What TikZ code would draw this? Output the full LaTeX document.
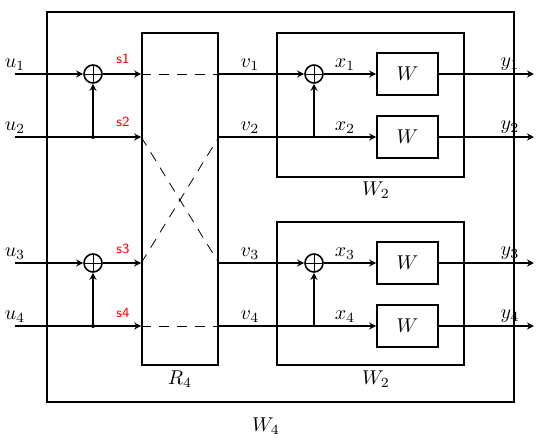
\documentclass[tikz,border=0pt]{standalone}
\usepackage{amsmath,amssymb}
\usepackage{tikz}
\usetikzlibrary{
	positioning,
	arrows.meta
}

\begin{document}
\begin{tikzpicture}[
			x=0.5pt,y=-0.5pt,
			frame/.style={
				draw,
				thick,
				inner sep=0pt
			},
			block/.style={
				draw,
				thick,
				minimum width=30.5pt,
				minimum height=21pt,
				inner sep=0pt
			},
			summer/.style={
				draw,
				thick,
				circle,
				minimum size=9pt,
				inner sep=0pt,
				path picture={
					\draw[thin] (path picture bounding box.north) -- (path picture bounding box.south)
					(path picture bounding box.west) -- (path picture bounding box.east);
				}
			},
			arrow/.style={-{Stealth[length=3.5pt,width=3.5pt]},thick},
			cross/.style={dash pattern=on 5pt off 4pt,thin},
			lab/.style={above,inner sep=1.5pt},
			tag/.style={text=red,font=\sffamily\scriptsize}
			]
			
			\useasboundingbox (0,0) rectangle (538,440);
			
			\node[frame,minimum width=233.5pt,minimum height=195pt] (w4) at (280.5,207) {};
			
			\node[frame,minimum width=38pt,minimum height=166pt] (r4) at (180,199) {};
			
			\node[frame,minimum width=93.5pt,minimum height=72pt] (w2a) at (370.5,105) {};
			
			\node[frame,minimum width=93.5pt,minimum height=71.5pt] (w2b) at (370.5,293.5) {};
			
			\node[block] (w1) at (407.5,74) {$W$};
			\node[block] (w2) at (407.5,137) {$W$};
			\node[block] (w3) at (407.5,263) {$W$};
			\node[block] (w4b) at (407.5,326) {$W$};
			
			\node at (180,379) {$R_4$};
			\node at (376,190) {$W_2$};
			\node at (376,379) {$W_2$};
			\node at (266,426) {$W_4$};
			
			\coordinate (u1) at (15,74);
			\coordinate (u2) at (15,137);
			\coordinate (u3) at (15,263);
			\coordinate (u4) at (15,326);
			
			\node[summer] (sum1) at (93,74) {};
			\node[summer] (sum3) at (93,263) {};
			\coordinate (j2) at (93,137);
			\coordinate (j4) at (93,326);
			
			\coordinate (a1) at (r4.west |- u1);
			\coordinate (a2) at (r4.west |- u2);
			\coordinate (a3) at (r4.west |- u3);
			\coordinate (a4) at (r4.west |- u4);
			\coordinate (b1) at (r4.east |- u1);
			\coordinate (b2) at (r4.east |- u2);
			\coordinate (b3) at (r4.east |- u3);
			\coordinate (b4) at (r4.east |- u4);
			
			\node[summer] (sum5) at (314,74) {};
			\node[summer] (sum7) at (314,263) {};
			\coordinate (j6) at (314,137);
			\coordinate (j8) at (314,326);
			
			\coordinate (y1) at (534,74);
			\coordinate (y2) at (534,137);
			\coordinate (y3) at (534,263);
			\coordinate (y4) at (534,326);
			
			\draw[arrow] (u1) -- (sum1);
			\draw[arrow] (sum1) -- (a1);
			\draw[arrow] (u2) -- (a2);
			\draw[arrow] (j2) -- (sum1);
			\draw[arrow] (u3) -- (sum3);
			\draw[arrow] (sum3) -- (a3);
			\draw[arrow] (u4) -- (a4);
			\draw[arrow] (j4) -- (sum3);
			\fill (j2) circle (1pt);
			\fill (j4) circle (1pt);
			
			\draw[cross] (a1) -- (b1);
			\draw[cross] (a2) -- (b3);
			\draw[cross] (a3) -- (b2);
			\draw[cross] (a4) -- (b4);
			
			\draw[arrow] (b1) -- (sum5);
			\draw[arrow] (sum5) -- (w1);
			\draw[arrow] (b2) -- (w2);
			\draw[arrow] (j6) -- (sum5);
			\draw[arrow] (b3) -- (sum7);
			\draw[arrow] (sum7) -- (w3);
			\draw[arrow] (b4) -- (w4b);
			\draw[arrow] (j8) -- (sum7);
			
			\draw[arrow] (w1) -- (y1);
			\draw[arrow] (w2) -- (y2);
			\draw[arrow] (w3) -- (y3);
			\draw[arrow] (w4b) -- (y4);
			
			\node[lab] at (u1) {$u_1$};
			\node[lab] at (u2) {$u_2$};
			\node[lab] at (u3) {$u_3$};
			\node[lab] at (u4) {$u_4$};
			
			\node[tag] at (123,59) {s1};
			\node[tag] at (123,122) {s2};
			\node[tag] at (123,249) {s3};
			\node[tag] at (123,313) {s4};
			
			\node[lab] at (250,74) {$v_1$};
			\node[lab] at (250,137) {$v_2$};
			\node[lab] at (250,263) {$v_3$};
			\node[lab] at (250,326) {$v_4$};
			
			\node[lab] at (345,74) {$x_1$};
			\node[lab] at (345,137) {$x_2$};
			\node[lab] at (345,263) {$x_3$};
			\node[lab] at (345,326) {$x_4$};
			
			\node[lab] at (510,74) {$y_1$};
			\node[lab] at (510,137) {$y_2$};
			\node[lab] at (510,263) {$y_3$};
			\node[lab] at (510,326) {$y_4$};
			
		\end{tikzpicture}
\end{document}
